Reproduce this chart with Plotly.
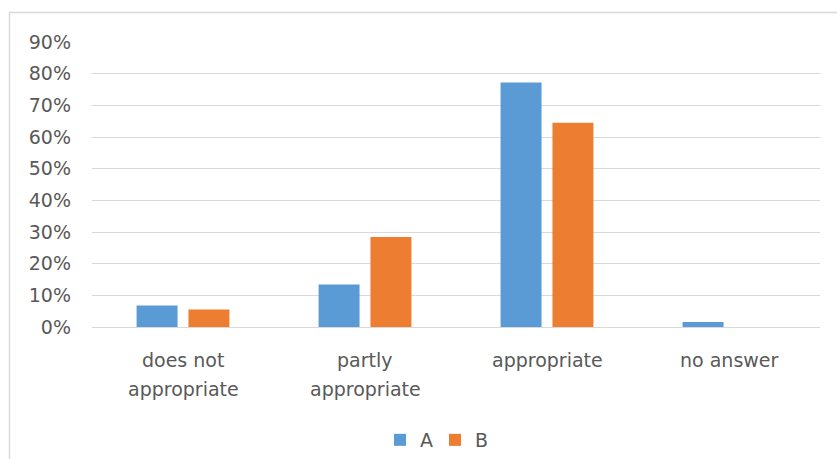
import plotly.graph_objects as go

categories = ["does not appropriate", "partly appropriate", "appropriate", "no answer"]
label_line1 = ["does not", "partly", "appropriate", "no answer"]
label_line2 = ["appropriate", "appropriate", "", ""]
series_a = [0.068, 0.134, 0.772, 0.016]
series_b = [0.055, 0.284, 0.645, 0.0]
tick_vals = [0, 0.1, 0.2, 0.3, 0.4, 0.5, 0.6, 0.7, 0.8, 0.9]
tick_text = ["0%", "10%", "20%", "30%", "40%", "50%", "60%", "70%", "80%", "90%"]

W, H = 837, 459
ML, MR, MT, MB = 92, 17, 42, 132
plot_h = H - MT - MB
plot_w = W - ML - MR

def py(px):
    return (H - MB - px) / plot_h

def pxx(px):
    return (px - ML) / plot_w

FONT = "DejaVu Sans"
GRAY = "#595959"
FS = 19

fig = go.Figure()
fig.add_trace(go.Bar(name="A", x=categories, y=series_a, marker=dict(color="#5B9BD5", line=dict(width=0))))
fig.add_trace(go.Bar(name="B", x=categories, y=series_b, marker=dict(color="#ED7D31", line=dict(width=0))))

annotations = []
for cat, l1, l2 in zip(categories, label_line1, label_line2):
    annotations.append(dict(x=cat, xref="x", y=py(360), yref="paper", text=l1, showarrow=False,
                            xanchor="center", yanchor="middle", font=dict(family=FONT, size=FS, color=GRAY)))
    if l2:
        annotations.append(dict(x=cat, xref="x", y=py(389), yref="paper", text=l2, showarrow=False,
                                xanchor="center", yanchor="middle", font=dict(family=FONT, size=FS, color=GRAY)))

fig.update_layout(
    width=W, height=H,
    margin=dict(l=ML, r=MR, t=MT, b=MB, autoexpand=False),
    paper_bgcolor="white", plot_bgcolor="white",
    barmode="group", bargap=0.43, bargroupgap=0.21,
    font=dict(family=FONT, size=FS, color=GRAY),
    xaxis=dict(showticklabels=False, showgrid=False, showline=False, zeroline=False, ticks="",
               automargin=False),
    yaxis=dict(range=[0, 0.9], tickvals=tick_vals, ticktext=tick_text, showgrid=True,
               gridcolor="#D9D9D9", gridwidth=1, zeroline=True, zerolinecolor="#D9D9D9",
               zerolinewidth=1, showline=False, ticks="", ticklabelstandoff=20, automargin=False,
               tickfont=dict(family=FONT, size=FS, color=GRAY)),
    legend=dict(orientation="h", xref="container", x=435 / W, xanchor="center",
                yref="container", y=(H - 440) / H, yanchor="middle",
                font=dict(family=FONT, size=FS, color=GRAY), itemwidth=30,
                entrywidth=10, entrywidthmode="pixels", traceorder="normal"),
    annotations=annotations,
    shapes=[dict(type="rect", xref="paper", yref="paper", x0=pxx(9.5), x1=pxx(900),
                 y0=py(600), y1=py(12.5), line=dict(color="#D9D9D9", width=1.5), layer="below")],
)

fig.write_html("out.html")
